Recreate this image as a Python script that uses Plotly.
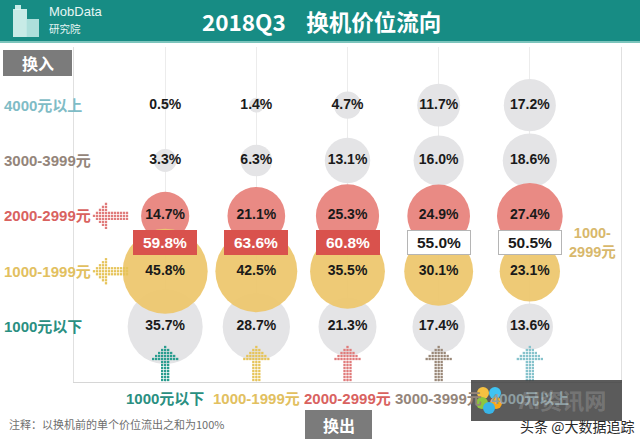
import plotly.graph_objects as go

# ---------------- data ----------------
col_labels = ["1000元以下", "1000-1999元", "2000-2999元", "3000-3999元", "4000元以上"]   # 换出 (columns)
row_labels = ["1000元以下", "1000-1999元", "2000-2999元", "3000-3999元", "4000元以上"]   # 换入 (rows, bottom -> top)

v_below1000 = [35.7, 28.7, 21.3, 17.4, 13.6]
v_1000_1999 = [45.8, 42.5, 35.5, 30.1, 23.1]
v_2000_2999 = [14.7, 21.1, 25.3, 24.9, 27.4]
v_3000_3999 = [3.3, 6.3, 13.1, 16.0, 18.6]
v_above4000 = [0.5, 1.4, 4.7, 11.7, 17.2]
sum_1000_2999 = [59.8, 63.6, 60.8, 55.0, 50.5]
sum_highlight = [True, True, True, False, False]

label_colors = ["#2a8f81", "#e2c060", "#d9625f", "#94857a", "#7fbcc6"]
# last bottom label sits under the watermark box in the source, so it shows dimmed
col_label_colors = ["#2a8f81", "#e2c060", "#d9625f", "#94857a", "#8d9ea2"]
arrow_colors = ["#2a9d8f", "#e6c45a", "#e07b7b", "#9a8878", "#86c3cc"]

GRAY = "#e4e4e6"
RED = "#e98a84"
YELLOW = "#edc76f"
BOXRED = "#d9524d"

# ---------------- geometry helpers ----------------
W, H = 640, 439
ML, MR, MT, MB = 74, 19, 47, 57
PW, PH = W - ML - MR, H - MT - MB
XR = [-1, 5]
YR = [-1, 5.05]
XS = PW / (XR[1] - XR[0])   # px per x unit
YS = PH / (YR[1] - YR[0])   # px per y unit


def pxx(p):
    return (p - ML) / PW


def pxy(p):
    return (H - MB - p) / PH


def dy_px(yy):
    return YR[0] + (H - MB - yy) / YS


SIZEREF = 2 * max(v_1000_1999) / (85.0 ** 2)

fig = go.Figure()

cols = list(range(len(col_labels)))


def bubbles(vals, row, color, opacity=1.0):
    fig.add_trace(go.Scatter(
        x=cols, y=[row] * len(cols), mode="markers",
        marker=dict(size=vals, sizemode="area", sizeref=SIZEREF, color=color,
                    opacity=opacity, line=dict(width=0)),
        hoverinfo="skip", showlegend=False))


bubbles(v_above4000, 4, GRAY)
bubbles(v_3000_3999, 3, GRAY)
bubbles(v_below1000, 0, GRAY)
bubbles(v_2000_2999, 2, RED)
bubbles(v_1000_1999, 1, YELLOW, 0.95)

# value labels
all_rows = [v_below1000, v_1000_1999, v_2000_2999, v_3000_3999, v_above4000]
tx, ty, tt = [], [], []
for r, vals in enumerate(all_rows):
    for c, v in enumerate(vals):
        tx.append(c)
        ty.append(r)
        tt.append(f"<b>{v:.1f}%</b>")
fig.add_trace(go.Scatter(
    x=tx, y=ty, mode="text", text=tt,
    textfont=dict(family="Liberation Sans, Arial, sans-serif", size=14, color="#1a1a1a"),
    hoverinfo="skip", showlegend=False))


# dotted arrows
def up_arrow(cx):
    xs, ys = [], []
    for k in range(7):
        yy = 380 - 3 * k
        for d in (-3, 0, 3):
            xs.append(cx + d / XS)
            ys.append(dy_px(yy))
    for i, w in enumerate([12, 9, 6, 3, 0]):
        yy = 359 - 3 * i
        for d in range(-w, w + 1, 3):
            xs.append(cx + d / XS)
            ys.append(dy_px(yy))
    return xs, ys


def left_arrow(row):
    xs, ys = [], []
    cy = row
    for i, w in enumerate([0, 3, 6, 9, 12]):
        xx = 94 + 3 * i
        for d in range(-w, w + 1, 3):
            xs.append(XR[0] + (xx - ML) / XS)
            ys.append(cy + d / YS)
    for k in range(7):
        xx = 109 + 3 * k
        for d in (-3, 0, 3):
            xs.append(XR[0] + (xx - ML) / XS)
            ys.append(cy + d / YS)
    return xs, ys


for c in cols:
    xs, ys = up_arrow(c)
    fig.add_trace(go.Scatter(x=xs, y=ys, mode="markers",
                             marker=dict(symbol="square", size=2.3, color=arrow_colors[c]),
                             hoverinfo="skip", showlegend=False, cliponaxis=False))
for r, colr in [(2, "#e07b7b"), (1, "#e6c45a")]:
    xs, ys = left_arrow(r)
    fig.add_trace(go.Scatter(x=xs, y=ys, mode="markers",
                             marker=dict(symbol="square", size=2.3, color=colr),
                             hoverinfo="skip", showlegend=False, cliponaxis=False))

shapes = []
ann = []

# header
shapes.append(dict(type="rect", xref="paper", yref="paper", x0=pxx(0), x1=pxx(W),
                   y0=pxy(41), y1=pxy(0), fillcolor="#178c84", line=dict(width=0), layer="above"))
shapes.append(dict(type="rect", xref="paper", yref="paper", x0=pxx(0), x1=pxx(W),
                   y0=pxy(43), y1=pxy(41), fillcolor="#7cc4bc", line=dict(width=0), layer="above"))
# logo building
for x0, x1, y0, y1, col in [(13, 27, 9, 37, "rgba(220,245,242,0.9)"),
                            (26, 39, 19, 37, "rgba(190,232,228,0.9)"),
                            (15, 21, 5, 10, "rgba(220,245,242,0.9)")]:
    shapes.append(dict(type="rect", xref="paper", yref="paper", x0=pxx(x0), x1=pxx(x1),
                       y0=pxy(y1), y1=pxy(y0), fillcolor=col, line=dict(width=0), layer="above"))
ann.append(dict(xref="paper", yref="paper", x=pxx(47), y=pxy(12), xanchor="left", yanchor="middle",
                text="MobData", showarrow=False,
                font=dict(family="Liberation Sans, Arial", size=13, color="#e8f6f4")))
ann.append(dict(xref="paper", yref="paper", x=pxx(47), y=pxy(29), xanchor="left", yanchor="middle",
                text="研究院", showarrow=False,
                font=dict(family="Noto Sans CJK SC", size=10.5, color="#e8f6f4")))
ann.append(dict(xref="paper", yref="paper", x=pxx(321), y=pxy(21), xanchor="center", yanchor="middle",
                text="<b>2018Q3\u00a0\u00a0\u00a0\u00a0换机价位流向</b>", showarrow=False,
                font=dict(family="Noto Sans CJK SC", size=22.5, color="white")))

# 换入 / 换出 boxes
for (x0, x1, y0, y1, t) in [(3, 72, 50, 76, "换入"), (305, 372, 410, 439, "换出")]:
    shapes.append(dict(type="rect", xref="paper", yref="paper", x0=pxx(x0), x1=pxx(x1),
                       y0=pxy(y1), y1=pxy(y0), fillcolor="#7b7b7b", line=dict(width=0), layer="above"))
    ann.append(dict(xref="paper", yref="paper", x=pxx((x0 + x1) / 2), y=pxy((y0 + y1) / 2),
                    xanchor="center", yanchor="middle", text=f"<b>{t}</b>", showarrow=False,
                    font=dict(family="Noto Sans CJK SC", size=16, color="white")))

# row labels
for r, lab in enumerate(row_labels):
    ann.append(dict(xref="paper", yref="y", x=pxx(2), y=r, xanchor="left", yanchor="middle",
                    text=f"<b>{lab}</b>", showarrow=False,
                    font=dict(family="Liberation Sans, Noto Sans CJK SC", size=15, color=label_colors[r])))

# watermark box + flower (shapes, drawn beneath texts)
shapes.append(dict(type="rect", xref="paper", yref="paper", x0=pxx(471), x1=pxx(622),
                   y0=pxy(421), y1=pxy(380), fillcolor="rgba(62,62,62,0.85)",
                   line=dict(width=0), layer="above"))
for (dx, dyy, col) in [(-6, -6, "#f6c141"), (6, -6, "#3fc3f2"), (-7, 4, "#8cc63f"),
                       (7, 4, "#f7a81b"), (0, 9, "#39b5e8")]:
    cx, cy = 489 + dx, 399 + dyy
    shapes.append(dict(type="circle", xref="paper", yref="paper", x0=pxx(cx - 6), x1=pxx(cx + 6),
                       y0=pxy(cy + 6), y1=pxy(cy - 6), fillcolor=col, line=dict(width=0), layer="above"))

# column labels
for c, lab in enumerate(col_labels):
    ann.append(dict(xref="x", yref="paper", x=c, y=pxy(398), xanchor="center", yanchor="middle",
                    text=f"<b>{lab}</b>", showarrow=False,
                    font=dict(family="Liberation Sans, Noto Sans CJK SC", size=15, color=col_label_colors[c])))

# sum boxes
for c, v in enumerate(sum_1000_2999):
    hl = sum_highlight[c]
    ann.append(dict(xref="x", yref="y", x=c, y=1.52, xanchor="center", yanchor="middle",
                    text=f"<b>{v:.1f}%</b>", showarrow=False, width=60, height=21,
                    bgcolor=BOXRED if hl else "white",
                    bordercolor=BOXRED if hl else "#b5b5b5", borderwidth=1,
                    font=dict(family="Liberation Sans, Arial", size=15.5,
                              color="white" if hl else "#1a1a1a")))

# right label
ann.append(dict(xref="paper", yref="y", x=pxx(592), y=1.52, xanchor="center", yanchor="middle",
                text="<b>1000-<br>2999元</b>", showarrow=False,
                font=dict(family="Liberation Sans, Noto Sans CJK SC", size=14.5, color="#d8b86c")))

# note
ann.append(dict(xref="paper", yref="paper", x=pxx(7), y=pxy(424), xanchor="left", yanchor="middle",
                text="注释：以换机前的单个价位流出之和为100%", showarrow=False,
                font=dict(family="Noto Sans CJK SC", size=11, color="#6e6e6e")))

# watermark texts
ann.append(dict(xref="paper", yref="paper", x=pxx(562), y=pxy(399), xanchor="center", yanchor="middle",
                text="<b>AI资讯网</b>", showarrow=False,
                font=dict(family="Noto Sans CJK SC", size=22, color="rgba(255,255,255,0.18)")))
ann.append(dict(xref="paper", yref="paper", x=pxx(636), y=pxy(426), xanchor="right", yanchor="middle",
                text="头条 @大数据追踪", showarrow=False,
                font=dict(family="Noto Sans CJK SC", size=14, color="#2a2a2a")))

fig.update_layout(
    width=W, height=H, margin=dict(l=ML, r=MR, t=MT, b=MB, pad=0),
    paper_bgcolor="white", plot_bgcolor="white",
    xaxis=dict(range=XR, tickvals=cols, showticklabels=False, showgrid=True, gridcolor="#ececec",
               gridwidth=1, zeroline=False, showline=True, linecolor="#d6d6d6", linewidth=1,
               ticks="", fixedrange=True),
    yaxis=dict(range=YR, showticklabels=False, showgrid=False, zeroline=False, showline=True,
               mirror=True, linecolor="#e0e0e0", linewidth=1, ticks="", fixedrange=True),
    shapes=shapes, annotations=ann, showlegend=False,
)

fig.write_html("out.html", config={"displayModeBar": False},
               post_script="document.body.style.margin='0px';document.body.style.overflow='hidden';")
